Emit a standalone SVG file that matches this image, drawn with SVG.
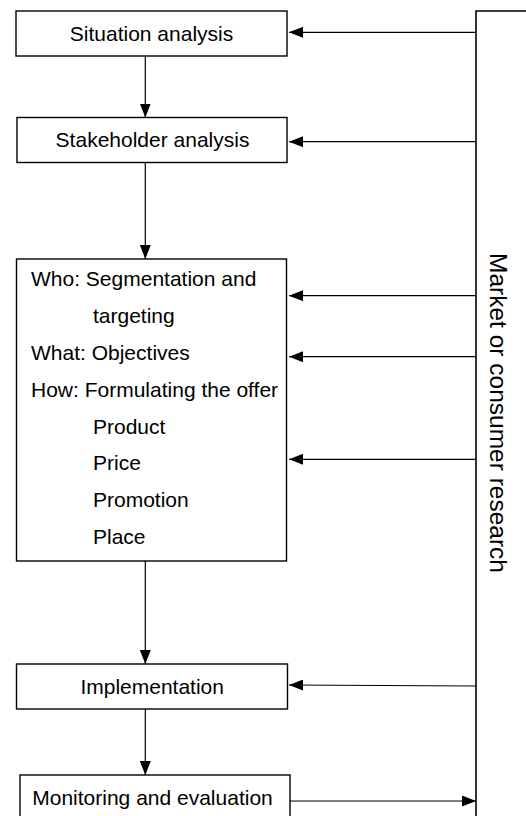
<svg xmlns="http://www.w3.org/2000/svg" width="526" height="816" viewBox="0 0 526 816">
<style>
.box{fill:#fff;stroke:#000;stroke-width:1.4}
.t{font-family:"Liberation Sans",Arial,sans-serif;font-size:21px;fill:#000}
.c{text-anchor:middle}
.ln{stroke:#000;stroke-width:1.2;fill:none}
</style>
<defs>
<marker id="ah" viewBox="0 0 14 11" refX="14" refY="5.5" markerWidth="14" markerHeight="11" markerUnits="userSpaceOnUse" orient="auto">
<path d="M0,0 L14,5.5 L0,11 Z" fill="#000"/>
</marker>
</defs>
<g id="research">
<path d="M476,816 L476,11 L530,11" fill="none" stroke="#000" stroke-width="1.6"/>
<text class="t" transform="translate(490,413) rotate(90)" text-anchor="middle" style="font-size:24.5px">Market or consumer research</text>
</g>
<g id="situation">
<rect class="box" x="16" y="11" width="271" height="45"/>
<text class="t c" x="151.5" y="40.7">Situation analysis</text>
</g>
<g id="stakeholder">
<rect class="box" x="17" y="117.5" width="270" height="45"/>
<text class="t c" x="152.5" y="147.3">Stakeholder analysis</text>
</g>
<g id="planning">
<rect class="box" x="16.5" y="259" width="270" height="302"/>
<text class="t" x="31" y="286.3">Who: Segmentation and</text>
<text class="t" x="93" y="323">targeting</text>
<text class="t" x="31" y="360">What: Objectives</text>
<text class="t" x="31" y="397">How: Formulating the offer</text>
<text class="t" x="93" y="433.5">Product</text>
<text class="t" x="93" y="470.3">Price</text>
<text class="t" x="93" y="507.3">Promotion</text>
<text class="t" x="93" y="544.3">Place</text>
</g>
<g id="implementation">
<rect class="box" x="16.5" y="664" width="271" height="45"/>
<text class="t c" x="152.2" y="694">Implementation</text>
</g>
<g id="monitoring">
<rect class="box" x="20" y="775" width="270" height="60"/>
<text class="t c" x="152.5" y="805">Monitoring and evaluation</text>
</g>
<g id="connectors">
<line class="ln" x1="145.3" y1="56" x2="145.3" y2="117.5" marker-end="url(#ah)"/>
<line class="ln" x1="145.3" y1="162.5" x2="145.3" y2="259" marker-end="url(#ah)"/>
<line class="ln" x1="145.3" y1="561" x2="145.3" y2="664" marker-end="url(#ah)"/>
<line class="ln" x1="145.3" y1="709" x2="145.3" y2="775" marker-end="url(#ah)"/>
<line class="ln" x1="476" y1="32.3" x2="289" y2="32.3" marker-end="url(#ah)"/>
<line class="ln" x1="476" y1="141.7" x2="289" y2="141.7" marker-end="url(#ah)"/>
<line class="ln" x1="476" y1="295.7" x2="289" y2="295.7" marker-end="url(#ah)"/>
<line class="ln" x1="476" y1="356.7" x2="289" y2="356.7" marker-end="url(#ah)"/>
<line class="ln" x1="476" y1="459.3" x2="289" y2="459.3" marker-end="url(#ah)"/>
<line class="ln" x1="476" y1="686" x2="289" y2="685" marker-end="url(#ah)"/>
<line class="ln" x1="290" y1="801" x2="476" y2="801" marker-end="url(#ah)"/>
</g>
</svg>
